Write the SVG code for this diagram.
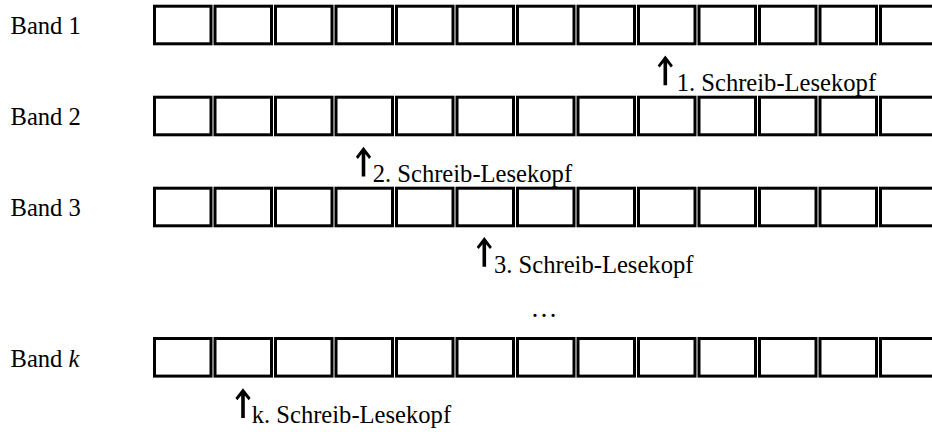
<svg xmlns="http://www.w3.org/2000/svg" xmlns:xlink="http://www.w3.org/1999/xlink" width="932" height="432" viewBox="0 0 932 432">
<style>
.cell{fill:#fff;stroke:#000;stroke-width:3}
.lbl{font-family:"Liberation Serif","Times New Roman",serif;font-size:24.6px;fill:#000}
.arr{fill:#000}
</style>
<defs>
<g id="tape">
<rect class="cell" x="154.5" y="0" width="56.5" height="37.6"/>
<rect class="cell" x="215" y="0" width="56.5" height="37.6"/>
<rect class="cell" x="275.5" y="0" width="56.5" height="37.6"/>
<rect class="cell" x="336" y="0" width="56.5" height="37.6"/>
<rect class="cell" x="396.5" y="0" width="56.5" height="37.6"/>
<rect class="cell" x="457" y="0" width="56.5" height="37.6"/>
<rect class="cell" x="517.5" y="0" width="56.5" height="37.6"/>
<rect class="cell" x="578" y="0" width="56.5" height="37.6"/>
<rect class="cell" x="638.5" y="0" width="56.5" height="37.6"/>
<rect class="cell" x="699" y="0" width="56.5" height="37.6"/>
<rect class="cell" x="759.5" y="0" width="56.5" height="37.6"/>
<rect class="cell" x="820" y="0" width="56.5" height="37.6"/>
<rect class="cell" x="880.5" y="0" width="56.5" height="37.6"/>
</g>
<path id="uparrow" class="arr" d="M0,-0.5 L7.6,9.4 L5.6,11.6 L1.8,6.8 L1.8,29.3 L-1.8,29.3 L-1.8,6.8 L-5.6,11.6 L-7.6,9.4 Z"/>
</defs>
<g id="band1">
<text class="lbl" x="10.5" y="34">Band 1</text>
<use xlink:href="#tape" href="#tape" y="6.2"/>
</g>
<g id="band2">
<text class="lbl" x="10.5" y="125">Band 2</text>
<use xlink:href="#tape" href="#tape" y="97.2"/>
</g>
<g id="band3">
<text class="lbl" x="10.5" y="216">Band 3</text>
<use xlink:href="#tape" href="#tape" y="188.2"/>
</g>
<g id="dots">
<text class="lbl" x="544" y="317" text-anchor="middle" style="font-size:27px">…</text>
</g>
<g id="bandk">
<text class="lbl" x="10.5" y="367">Band <tspan font-style="italic">k</tspan></text>
<use xlink:href="#tape" href="#tape" y="338.5"/>
</g>
<g id="connectors">
<g id="head1">
<use xlink:href="#uparrow" href="#uparrow" x="665.3" y="56"/>
<text class="lbl" x="676.7" y="90.7">1. Schreib-Lesekopf</text>
</g>
<g id="head2">
<use xlink:href="#uparrow" href="#uparrow" x="363.5" y="147.3"/>
<text class="lbl" x="372.7" y="182.3">2. Schreib-Lesekopf</text>
</g>
<g id="head3">
<use xlink:href="#uparrow" href="#uparrow" x="484.3" y="237.5"/>
<text class="lbl" x="494" y="273.3">3. Schreib-Lesekopf</text>
</g>
<g id="headk">
<use xlink:href="#uparrow" href="#uparrow" x="243" y="388.7"/>
<text class="lbl" x="251.7" y="423.3">k. Schreib-Lesekopf</text>
</g>
</g>
</svg>
